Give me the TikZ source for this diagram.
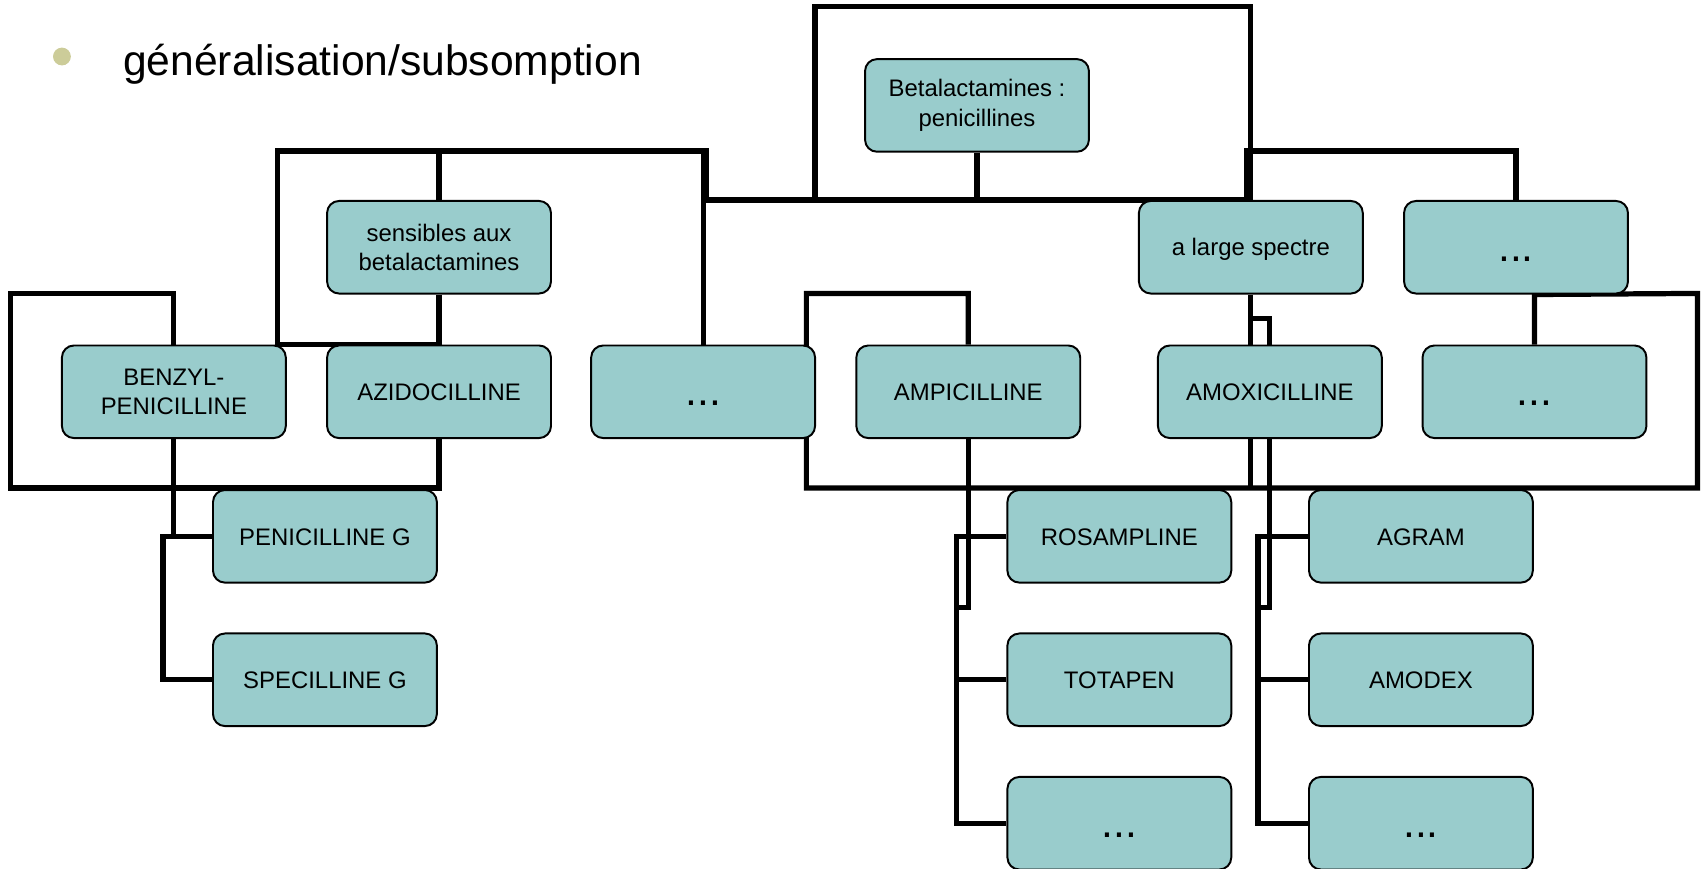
\documentclass[tikz,border=0pt]{standalone}
\usepackage{fontspec}
\setmainfont{Liberation Sans}
\usepackage{tikz}
\usetikzlibrary{backgrounds}

\definecolor{drugteal}{RGB}{153,204,204}
\definecolor{bulletolive}{RGB}{204,204,153}

\tikzset{
  drug/.style={draw=black, line width=0.9pt, fill=drugteal, rounded corners=5.5pt,
    minimum width=103pt, minimum height=42.6pt, inner sep=1pt, align=center,
    font=\fontsize{11}{13.5}\selectfont},
  word/.style={drug, text height=8pt, text depth=0pt},
  more/.style={drug, font=\fontsize{19.6}{23}\selectfont, text height=13pt, text depth=0pt},
  isa/.style={line width=2.4pt},
}

\begin{document}
\begin{tikzpicture}[x=0.5pt, y=-0.5pt]
  \useasboundingbox (0,0) rectangle (1568,799.6);

  % Bullet and heading
  \fill[bulletolive] (57,52) circle (4.1pt);
  \node[anchor=base west, inner sep=0pt, font=\fontsize{19.6}{23}\selectfont] (head) at (113,69.5) {généralisation/subsomption};

  % Root
  \node[drug] (beta)   at (899,97)       {Betalactamines :\\ penicillines};

  % Second level
  \node[drug] (sens)   at (404,227.5)    {sensibles aux\\ betalactamines};
  \node[word] (large)  at (1151,227.5)   {a large spectre};
  \node[more] (moreA)  at (1395,227.5)   {...};

  % Third level
  \node[drug] (benzyl) at (160,360.5)    {BENZYL-\\ PENICILLINE};
  \node[word] (azido)  at (404,360.5)    {AZIDOCILLINE};
  \node[more] (moreB)  at (647,360.5)    {...};
  \node[word] (ampi)   at (891,360.5)    {AMPICILLINE};
  \node[word] (amoxi)  at (1168.5,360.5) {AMOXICILLINE};
  \node[more] (moreC)  at (1412,360.5)   {...};

  % Brand names
  \node[word] (peng)   at (299,493.5)    {PENICILLINE G};
  \node[word] (specg)  at (299,625.5)    {SPECILLINE G};
  \node[word] (rosa)   at (1030,493.5)   {ROSAMPLINE};
  \node[word] (tota)   at (1030,625.5)   {TOTAPEN};
  \node[more] (moreD)  at (1030,757.5)   {...};
  \node[word] (agram)  at (1307.5,493.5) {AGRAM};
  \node[word] (amodex) at (1307.5,625.5) {AMODEX};
  \node[more] (moreE)  at (1307.5,757.5) {...};

  \begin{pgfonlayer}{background}
    % Root frame and bus
    \draw[isa] (large.north) -- (1151,6) -- (750,6) -- (750,184);
    \draw[isa] (beta.south) -- (beta.south |- large.north);
    \draw[isa] (650,184) -- (large.north);
    \draw[isa] (1147,184) -- (1147,139) -| (moreA.north);

    % Sensibles frame
    \draw[isa] (sens.north) -- (404,139);
    \draw[isa] (sens.south) -- (azido.north);
    \draw[isa] (azido.north) -- (255,317) -- (255,139) -- (650,139) -- (650,184);
    \draw[isa] (moreB.north) -- (647,139);

    % Benzyl frame
    \draw[isa] (benzyl.north) -- (160,270) -- (10,270) -- (10,449) -- (404,449) -- (azido.south);
    \draw[isa] (benzyl.south) |- (peng.west);
    \draw[isa] (benzyl.south |- peng.west) -- ++(-10,0) |- (specg.west);

    % Ampicilline frame
    \draw[isa] (ampi.north) -- (891,270) -- (742,270) -- (742,449) -- (1562,449) -- (1562,270) -- (moreC.north |- moreA.south) -- (moreC.north);

    % A large spectre
    \draw[isa] (large.south) -- (1151,449);
    \draw[isa] (amoxi.north) -- ++(0,-24) -| (large.south);

    % Ampicilline children
    \draw[isa] (ampi.south) -- ++(0,155) -- ++(-11,0);
    \draw[isa] (rosa.west) -- ++(-46,0) |- (moreD.west);
    \draw[isa] (tota.west) -- ++(-46,0);

    % Amoxicilline children
    \draw[isa] (amoxi.south) -- ++(0,155) -- ++(-10.5,0);
    \draw[isa] (agram.west) -- ++(-46,0) |- (moreE.west);
    \draw[isa] (amodex.west) -- ++(-46,0);
  \end{pgfonlayer}
\end{tikzpicture}
\end{document}
